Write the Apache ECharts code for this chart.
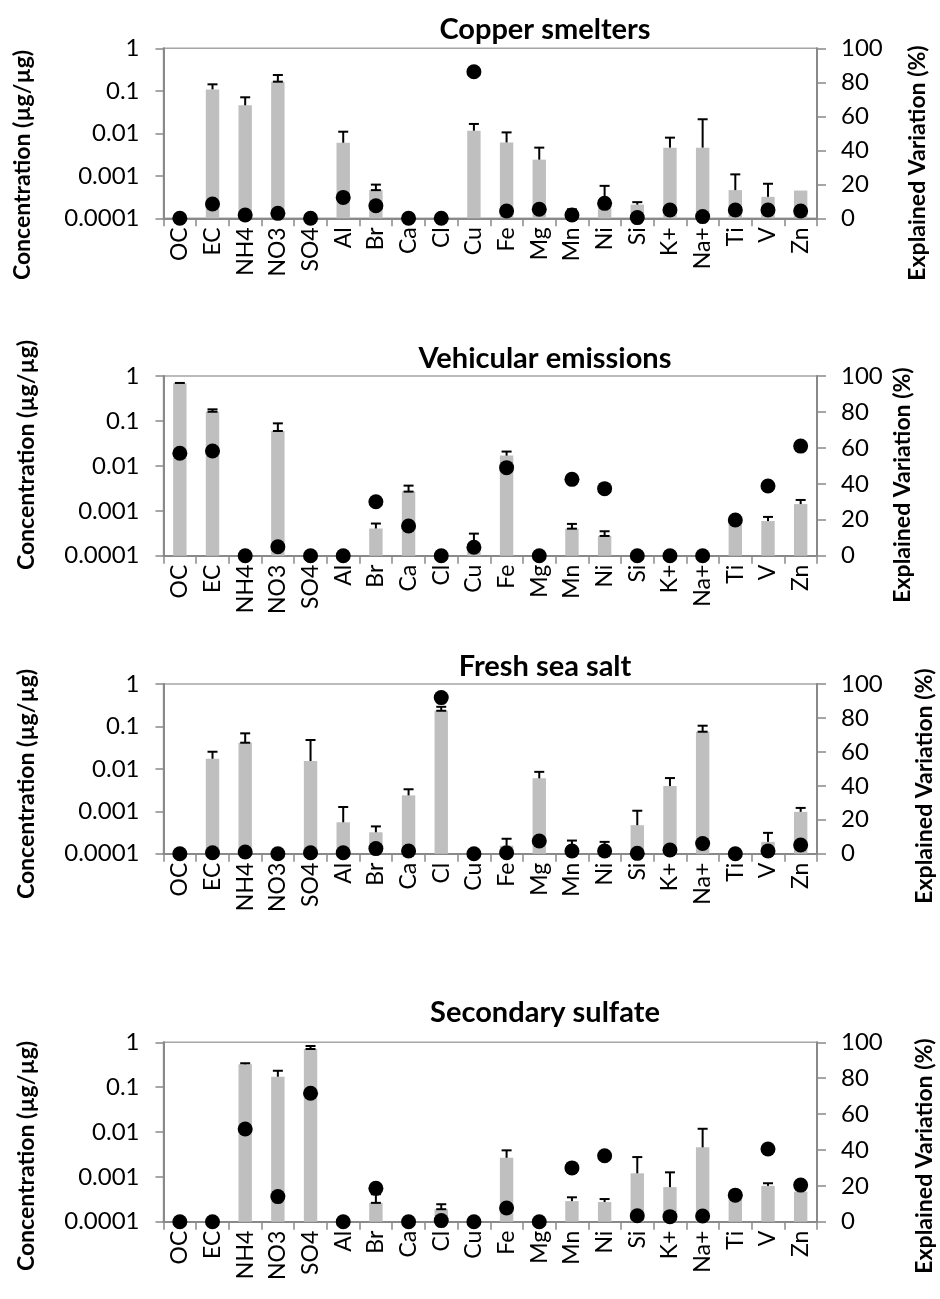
<!DOCTYPE html>
<html>
<head>
<meta charset="utf-8">
<script src="https://cdn.jsdelivr.net/npm/echarts@6/dist/echarts.min.js"></script>
<style>
  html, body { margin: 0; padding: 0; background: #fff; }
  #chart { width: 940px; height: 1299px; }
</style>
</head>
<body>
<div id="chart"></div>
<script>
// ---------------- DATA ----------------
const categories = ['OC','EC','NH4','NO3','SO4','Al','Br','Ca','Cl','Cu','Fe','Mg','Mn','Ni','Si','K+','Na+','Ti','V','Zn'];
const concTickLabels = ['1','0.1','0.01','0.001','0.0001'];
const varTickLabels = [0, 20, 40, 60, 80, 100];
const panelTitles = ['Copper smelters','Vehicular emissions','Fresh sea salt','Secondary sulfate'];
const leftAxisName = 'Concentration (µg/µg)';
const rightAxisName = 'Explained Variation (%)';

// Copper smelters
const copperConc = [null, 0.108, 0.0456, 0.164, null, 0.0060, 0.00046, null, null, 0.0115, 0.0061, 0.0024, 0.00013, 0.00022, 0.00021, 0.0046, 0.0046, 0.00046, 0.00032, 0.00045];
const copperErr  = [null, 0.142, 0.0703, 0.235, null, 0.0109, 0.00062, null, null, 0.0166, 0.0105, 0.0046, 0.000163, 0.00058, 0.00024, 0.0079, 0.0214, 0.00108, 0.00065, null];
const copperVar  = [0, 8.4, 1.9, 2.9, 0, 12.3, 7.4, 0, 0, 86.2, 4.3, 5.3, 1.9, 8.8, 0.4, 4.9, 1.0, 4.9, 4.9, 4.3];
const copperLowCap = ['NO3', 'Br'];

// Vehicular emissions
const vehicConc = [0.687, 0.160, null, 0.0596, null, null, 0.000403, 0.00267, null, 0.00015, 0.0169, null, 0.00040, 0.000275, null, null, null, 0.00058, 0.00059, 0.00141];
const vehicErr  = [0.70, 0.181, null, 0.0883, null, null, 0.00052, 0.00363, null, 0.00031, 0.0208, null, 0.00051, 0.00035, null, null, null, null, 0.00073, 0.00174];
const vehicVar  = [57, 58.3, 0, 5, 0, 0, 30, 16.5, 0, 4.7, 49, 0, 42.5, 37.3, 0, 0, 0, 19.9, 38.8, 61];
const vehicLowCap = ['EC', 'NO3', 'Ca', 'Ni', 'Mn'];

// Fresh sea salt
const seaConc = [null, 0.0173, 0.0413, null, 0.0153, 0.00055, 0.00032, 0.00237, 0.234, null, 0.000154, 0.00597, 0.00012, 0.00012, 0.00047, 0.00393, 0.075, null, 0.00019, 0.00097];
const seaErr  = [null, 0.0253, 0.0687, null, 0.0478, 0.00126, 0.00044, 0.0033, 0.29, null, 0.000225, 0.0085, 0.000204, 0.00019, 0.00103, 0.00607, 0.104, null, 0.00031, 0.0012];
const seaVar  = [0, 0.6, 1, 0, 0.6, 0.6, 3, 1.6, 92, 0, 0.6, 7.5, 1.6, 1.6, 0.2, 2.2, 6, 0, 1.6, 5.1];
const seaLowCap = ['NH4', 'Cl', 'Na+'];

// Secondary sulfate
const sulfConc = [null, null, 0.323, 0.171, 0.708, null, 0.000263, null, 0.00019, null, 0.00266, null, 0.000288, 0.000274, 0.00120, 0.00059, 0.00455, 0.00045, 0.00063, 0.00047];
const sulfErr  = [null, null, 0.341, 0.232, 0.826, null, 0.00041, null, 0.000245, null, 0.0039, null, 0.00035, 0.00032, 0.00276, 0.00126, 0.0118, null, 0.00072, null];
const sulfVar  = [0, 0, 51.7, 14, 71.6, 0, 18.6, 0, 0.6, 0, 7.6, 0, 30, 36.8, 3.3, 2.8, 3.2, 14.8, 40.5, 20.4];
const sulfLowCap = ['SO4', 'Br', 'Cl'];

// ---------------- LAYOUT / STYLE ----------------
const panels = [
  { conc: copperConc, err: copperErr, vari: copperVar, lowCap: copperLowCap },
  { conc: vehicConc,  err: vehicErr,  vari: vehicVar,  lowCap: vehicLowCap },
  { conc: seaConc,    err: seaErr,    vari: seaVar,    lowCap: seaLowCap },
  { conc: sulfConc,   err: sulfErr,   vari: sulfVar,   lowCap: sulfLowCap }
];
const gridLeft = 163.5, gridWidth = 653.5;
const gridTop = [48.3, 376, 684, 1042.3];
const gridHeight = [170, 179.7, 169.7, 179.4];
const titleY = [30, 359, 667, 1013];
const leftNameX = [23, 27, 27, 27];
const leftNameY = [165, 455, 784, 1156];
const rightNameX = [918, 903, 925, 925];
const rightNameY = [163, 485, 786, 1156];

const FONT = 'Lato, "Open Sans", sans-serif';
const AXIS_COLOR = '#898989';
const BAR_COLOR = '#bfbfbf';
const LOG_MIN = 0.0001, LOG_MAX = 1;

function concLabel(v) {
  const k = Math.round(-Math.log10(v));
  return concTickLabels[k] !== undefined ? concTickLabels[k] : '';
}

function renderBar(params, api) {
  const idx = api.value(0);
  const v = api.value(1);
  const e = api.value(2);
  const lc = api.value(3);
  const top = api.coord([idx, v]);
  const base = api.coord([idx, LOG_MIN]);
  const band = api.size([1, 1])[0];
  const w = band * 0.41;
  const capW = 10;
  const children = [{
    type: 'rect',
    shape: { x: top[0] - w / 2, y: top[1], width: w, height: base[1] - top[1] },
    style: { fill: BAR_COLOR }
  }];
  const lineStyle = { stroke: '#000', lineWidth: 2 };
  if (e && e > 0) {
    const et = api.coord([idx, e]);
    children.push({ type: 'line', shape: { x1: top[0], y1: top[1], x2: top[0], y2: et[1] }, style: lineStyle });
    children.push({ type: 'line', shape: { x1: top[0] - capW / 2, y1: et[1], x2: top[0] + capW / 2, y2: et[1] }, style: lineStyle });
    if (lc) {
      children.push({ type: 'line', shape: { x1: top[0] - capW / 2, y1: top[1], x2: top[0] + capW / 2, y2: top[1] }, style: lineStyle });
    }
  }
  return { type: 'group', children };
}

const grids = [], xAxes = [], yAxes = [], series = [], graphics = [];

panels.forEach((p, i) => {
  grids.push({
    left: gridLeft, width: gridWidth, top: gridTop[i], height: gridHeight[i],
    show: true, borderColor: '#a6a6a6', borderWidth: 1.5, backgroundColor: 'transparent'
  });
  xAxes.push({
    type: 'category', gridIndex: i, data: categories,
    axisLine: { show: true, lineStyle: { color: AXIS_COLOR, width: 2 } },
    axisTick: { show: true, length: 8, lineStyle: { color: AXIS_COLOR, width: 1.5 } },
    axisLabel: { rotate: 90, color: '#000', fontFamily: FONT, fontSize: 23, margin: 9, interval: 0 },
    splitLine: { show: false }
  });
  yAxes.push({
    type: 'log', logBase: 10, gridIndex: i, min: LOG_MIN, max: LOG_MAX, position: 'left',
    axisLine: { show: true, lineStyle: { color: AXIS_COLOR, width: 2 } },
    axisTick: { show: true, length: 8, lineStyle: { color: AXIS_COLOR, width: 1.5 } },
    axisLabel: { color: '#000', fontFamily: FONT, fontSize: 24, margin: 24, formatter: concLabel },
    splitLine: { show: false }
  });
  yAxes.push({
    type: 'value', gridIndex: i, min: 0, max: 100, interval: 20, position: 'right',
    axisLine: { show: true, lineStyle: { color: AXIS_COLOR, width: 2 } },
    axisTick: { show: true, length: 9, lineStyle: { color: AXIS_COLOR, width: 1.5 } },
    axisLabel: { color: '#000', fontFamily: FONT, fontSize: 24, margin: 24,
      formatter: v => (varTickLabels.indexOf(v) >= 0 ? String(v) : '') },
    splitLine: { show: false }
  });

  const barData = [];
  p.conc.forEach((v, k) => {
    if (v !== null) {
      barData.push([k, v, p.err[k] || 0, p.lowCap.indexOf(categories[k]) >= 0 ? 1 : 0]);
    }
  });
  series.push({
    type: 'custom', xAxisIndex: i, yAxisIndex: 2 * i, renderItem: renderBar,
    data: barData, encode: { x: 0, y: 1 }, z: 2, silent: true
  });
  series.push({
    type: 'scatter', xAxisIndex: i, yAxisIndex: 2 * i + 1,
    data: p.vari.map((v, k) => [k, v]),
    symbol: 'circle', symbolSize: 15, itemStyle: { color: '#000', opacity: 1 }, z: 4, clip: false, silent: true
  });

  graphics.push({
    type: 'text', x: 545, y: titleY[i],
    style: { text: panelTitles[i], font: 'bold 29px ' + FONT, fill: '#000', textAlign: 'center', textVerticalAlign: 'middle' }
  });
  graphics.push({
    type: 'text', x: leftNameX[i], y: leftNameY[i], rotation: Math.PI / 2,
    style: { text: leftAxisName, font: 'bold 23px ' + FONT, fill: '#000', textAlign: 'center', textVerticalAlign: 'middle' }
  });
  graphics.push({
    type: 'text', x: rightNameX[i], y: rightNameY[i], rotation: Math.PI / 2,
    style: { text: rightAxisName, font: 'bold 23px ' + FONT, fill: '#000', textAlign: 'center', textVerticalAlign: 'middle' }
  });
});

const chart = echarts.init(document.getElementById('chart'), null, { renderer: 'canvas' });
chart.setOption({
  animation: false,
  backgroundColor: '#fff',
  grid: grids,
  xAxis: xAxes,
  yAxis: yAxes,
  series: series,
  graphic: { elements: graphics }
});
</script>
</body>
</html>
